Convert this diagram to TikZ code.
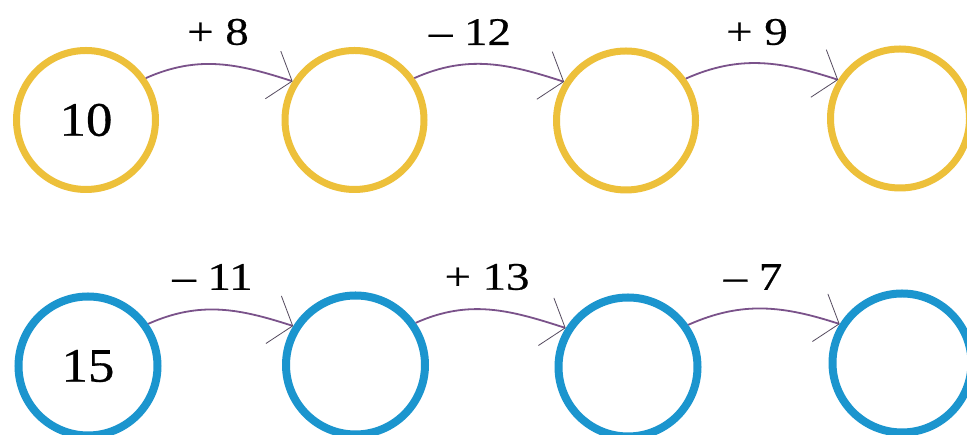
\documentclass[tikz,border=0pt]{standalone}
\usepackage{fontspec}
\setmainfont{Liberation Serif}
\newfontfamily\labfont[FakeStretch=1.2,FakeBold=0.6]{Liberation Serif}
\newfontfamily\numfont[FakeStretch=1.1,FakeBold=0.6]{Liberation Serif}
\usetikzlibrary{arrows.meta}
\definecolor{ringyellow}{RGB}{237,192,58}
\definecolor{ringblue}{RGB}{27,149,206}
\definecolor{arcpurple}{RGB}{122,82,138}
\definecolor{tipgray}{RGB}{85,75,95}
\begin{document}
\begin{tikzpicture}[x=1pt,y=1pt,
  ring/.style={circle,minimum size=139pt,inner sep=0pt,font=\numfont\fontsize{48}{48}\selectfont},
  yring/.style={ring,draw=ringyellow,line width=7pt},
  bring/.style={ring,draw=ringblue,line width=8pt},
  hop/.style={arcpurple,line width=1.8pt,-{Straight Barb[length=20pt,width=50pt,line width=0.8pt,color=tipgray]},out=24,in=162},
  oplabel/.style={inner sep=0pt,font=\labfont\fontsize{39}{39}\selectfont}]
\useasboundingbox (0,0) rectangle (967,435);
\clip (0,0) rectangle (967,435);
\fill[white] (0,0) rectangle (967,435);
% top row
\node[yring] (t1) at (86,315) {10};
\node[yring] (t2) at (354.5,315) {};
\node[yring] (t3) at (626,314.5) {};
\node[yring] (t4) at (900,316.5) {};
\draw[hop] (t1.35) to (t2.148);
\draw[hop] (t2.35) to (t3.148);
\draw[hop] (t3.35) to (t4.148);
\node[oplabel] (lt1) at (218,403) {+ 8};
\node[oplabel] (lt2) at (470,403) {– 12};
\node[oplabel] (lt3) at (757,403) {+ 9};
% bottom row
\node[bring] (b1) at (88,69) {15};
\node[bring] (b2) at (355.5,70) {};
\node[bring] (b3) at (628,68) {};
\node[bring] (b4) at (902,72) {};
\draw[hop] (b1.35) to (b2.148);
\draw[hop] (b2.35) to (b3.148);
\draw[hop] (b3.35) to (b4.148);
\node[oplabel] (lb1) at (212.5,158) {– 11};
\node[oplabel] (lb2) at (487,158) {+ 13};
\node[oplabel] (lb3) at (753,158) {– 7};
\end{tikzpicture}
\end{document}
